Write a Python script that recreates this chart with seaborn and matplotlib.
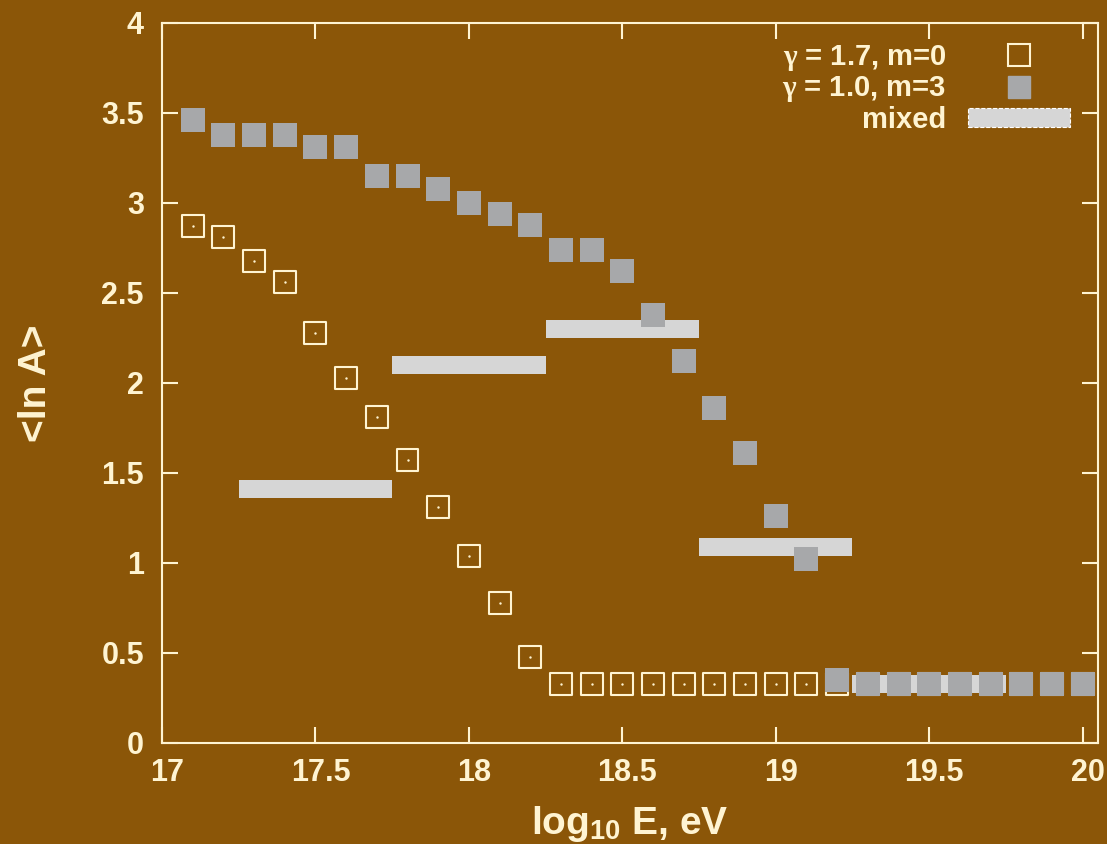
import numpy as np
import pandas as pd
import matplotlib
matplotlib.use("Agg")
import matplotlib.pyplot as plt
import matplotlib.transforms as mtransforms
from matplotlib.lines import Line2D
from matplotlib.patches import Patch
import seaborn as sns

# ---------------- data ----------------
log_e = [17.1, 17.2, 17.3, 17.4, 17.5, 17.6, 17.7, 17.8, 17.9, 18.0,
         18.1, 18.2, 18.3, 18.4, 18.5, 18.6, 18.7, 18.8, 18.9, 19.0,
         19.1, 19.2, 19.3, 19.4, 19.5, 19.6, 19.7, 19.8, 19.9, 20.0]
lnA_g17_m0 = [2.87, 2.81, 2.68, 2.56, 2.28, 2.03, 1.81, 1.57, 1.31, 1.04,
              0.78, 0.48, 0.33, 0.33, 0.33, 0.33, 0.33, 0.33, 0.33, 0.33,
              0.33, 0.33, 0.33, 0.33, 0.33, 0.33, 0.33, 0.33, 0.33, 0.33]
lnA_g10_m3 = [3.46, 3.38, 3.38, 3.38, 3.31, 3.31, 3.15, 3.15, 3.08, 3.00,
              2.94, 2.88, 2.74, 2.74, 2.62, 2.38, 2.12, 1.86, 1.61, 1.26,
              1.02, 0.35, 0.33, 0.33, 0.33, 0.33, 0.33, 0.33, 0.33, 0.33]
mixed_lo = [17.25, 17.75, 18.25, 18.75, 19.25]
mixed_hi = [17.75, 18.25, 18.75, 19.25, 19.75]
mixed_val = [1.41, 2.10, 2.30, 1.09, 0.33]

labels = ["$\\gamma$ = 1.7, m=0", "$\\gamma$ = 1.0, m=3", "mixed"]
xticks = [17, 17.5, 18, 18.5, 19, 19.5, 20]
yticks = [0, 0.5, 1, 1.5, 2, 2.5, 3, 3.5, 4]

# ---------------- style ----------------
BG = "#8B5608"
FG = "#FFF4D2"
GREY = "#A7A8AA"
LIGHT = "#D6D6D6"

sns.set_theme(style="ticks")
plt.rcParams["font.family"] = ["Liberation Sans", "DejaVu Sans"]
plt.rcParams["font.weight"] = "bold"
plt.rcParams["mathtext.fontset"] = "custom"
plt.rcParams["mathtext.rm"] = "Liberation Sans:bold"
plt.rcParams["mathtext.it"] = "Liberation Serif"
plt.rcParams["mathtext.bf"] = "Liberation Sans:bold"

fig = plt.figure(figsize=(11.07, 8.44), dpi=100, facecolor=BG)
ax = fig.add_axes([162 / 1107, 1 - 743 / 844, 936 / 1107, 720 / 844], facecolor=BG)

df = pd.DataFrame({"x": log_e, "a": lnA_g17_m0, "b": lnA_g10_m3})

# open squares (gamma 1.7)
sns.scatterplot(data=df, x="x", y="a", marker="s", s=250, facecolor="none",
                edgecolor=FG, linewidth=1.5, ax=ax, zorder=2, legend=False)
sns.scatterplot(data=df, x="x", y="a", marker="o", s=3, color=FG,
                linewidth=0, ax=ax, zorder=2.1, legend=False)

# mixed bars
ax.barh(mixed_val, width=np.array(mixed_hi) - np.array(mixed_lo), left=mixed_lo,
        height=0.1, color=LIGHT, edgecolor="none", zorder=3)

# filled squares (gamma 1.0)
sns.scatterplot(data=df, x="x", y="b", marker="s", s=290, color=GREY,
                linewidth=0, ax=ax, zorder=4, legend=False)

ax.set_xlim(17, 20.05)
ax.set_ylim(0, 4)
ax.set_xticks(xticks)
ax.set_xticklabels([f"{t:g}" for t in xticks])
ax.set_yticks(yticks)
ax.set_yticklabels([f"{t:g}" for t in yticks])

for s in ax.spines.values():
    s.set_visible(True)
    s.set_color(FG)
    s.set_linewidth(1.5)

ax.tick_params(axis="both", which="major", direction="in", length=11.5, width=1.5,
               color=FG, labelcolor=FG, labelsize=22, top=True, right=True)
ax.tick_params(axis="x", pad=11)
ax.tick_params(axis="y", pad=13)

shift = mtransforms.ScaledTranslation(5 / 100, 0, fig.dpi_scale_trans)
for lab in ax.get_xticklabels():
    lab.set_transform(lab.get_transform() + shift)

ax.set_xlabel("log$_{10}$ E, eV", color=FG, fontsize=28, fontweight="bold", labelpad=11)
ax.set_ylabel("<ln A>", color=FG, fontsize=28, fontweight="bold", labelpad=34)

h1 = Line2D([], [], marker="s", linestyle="none", markersize=15.5,
            markerfacecolor="none", markeredgecolor=FG, markeredgewidth=1.5)
h2 = Line2D([], [], marker="s", linestyle="none", markersize=16.5,
            markerfacecolor=GREY, markeredgecolor=GREY)
h3 = Patch(facecolor=LIGHT, edgecolor="white", linestyle="--", linewidth=0.8)
leg = ax.legend([h1, h2, h3], labels, loc="upper right", frameon=False,
                markerfirst=False, fontsize=21, handlelength=3.5, handleheight=0.6,
                labelspacing=0.05, handletextpad=0.75, borderaxespad=0.0,
                borderpad=0.0, bbox_to_anchor=(1 - 28 / 936, 1 - 20 / 720))
for t in leg.get_texts():
    t.set_color(FG)
    t.set_fontweight("bold")
    t.set_ha("right")

fig.savefig("out.png", dpi=100, facecolor=BG)
